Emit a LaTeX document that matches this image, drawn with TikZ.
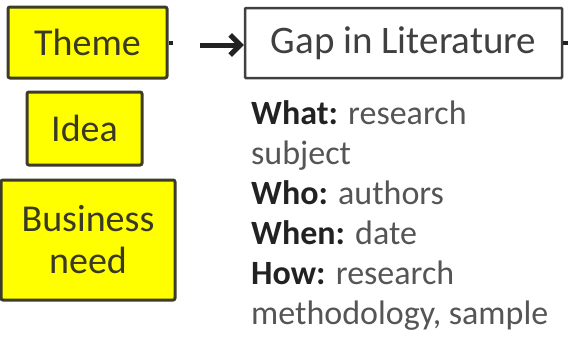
\documentclass[tikz,border=0pt]{standalone}
\usepackage{fontspec}
\setmainfont{Carlito}
\usepackage{xcolor}
\usepackage{tikz}
\usetikzlibrary{positioning,arrows.meta}
\definecolor{SourceYellow}{HTML}{FFFF00}
\definecolor{SourceEdge}{HTML}{3C3C28}
\definecolor{SourceText}{HTML}{3A3A24}
\definecolor{TargetEdge}{HTML}{404040}
\definecolor{BodyGray}{HTML}{555555}
\definecolor{LabelDark}{HTML}{222222}

\tikzset{
  source/.style={draw=SourceEdge, line width=3pt, fill=SourceYellow,
                 rounded corners=2pt, align=center, text=SourceText,
                 font=\fontsize{38}{42}\selectfont, inner sep=0pt},
  target/.style={draw=TargetEdge, line width=2.5pt, fill=white,
                 rounded corners=1pt, align=center, text=TargetEdge,
                 font=\fontsize{39}{42}\selectfont, inner sep=0pt},
  link/.style={line width=5pt, draw=LabelDark,
               -{Straight Barb[length=10pt,width=20pt]}},
  stub/.style={line width=4pt, draw=LabelDark}
}
\newcommand{\lbl}[1]{\textbf{\color{LabelDark}#1}}

\begin{document}
\begin{tikzpicture}[x=1pt,y=-1pt]
  \useasboundingbox (0,0) rectangle (568,340);
  % sources on the left
  \node[source, minimum width=159pt, minimum height=71pt] (theme) at (87.5,42.5) {Theme};
  \node[source, minimum width=115pt, minimum height=73pt] (idea) at (84.5,128.5) {Idea};
  \node[source, minimum width=174pt, minimum height=120pt] (business) at (88,240) {Business\\need};
  % gap box and its notes
  \node[target, minimum width=317pt, minimum height=70pt] (gap) at (403.5,43) {Gap in Literature};
  \node[anchor=north west, align=left, inner sep=0pt, text=BodyGray,
        font=\fontsize{34}{40}\selectfont] (details) at (251,100) {%
    \lbl{What:} research\\
    subject\\
    \lbl{Who:} authors\\
    \lbl{When:} date\\
    \lbl{How:} research\\
    methodology, sample};
  % connectors
  \coordinate (arrowstart) at (200,45);
  \draw[link] (arrowstart) -- (arrowstart -| gap.west);
  \coordinate (themestub) at ([xshift=4pt]theme.east);
  \draw[stub] (theme.east) -- (themestub);
  \coordinate (gapstub) at ([xshift=5pt]gap.east);
  \draw[stub] (gap.east) -- (gapstub);
\end{tikzpicture}
\end{document}
